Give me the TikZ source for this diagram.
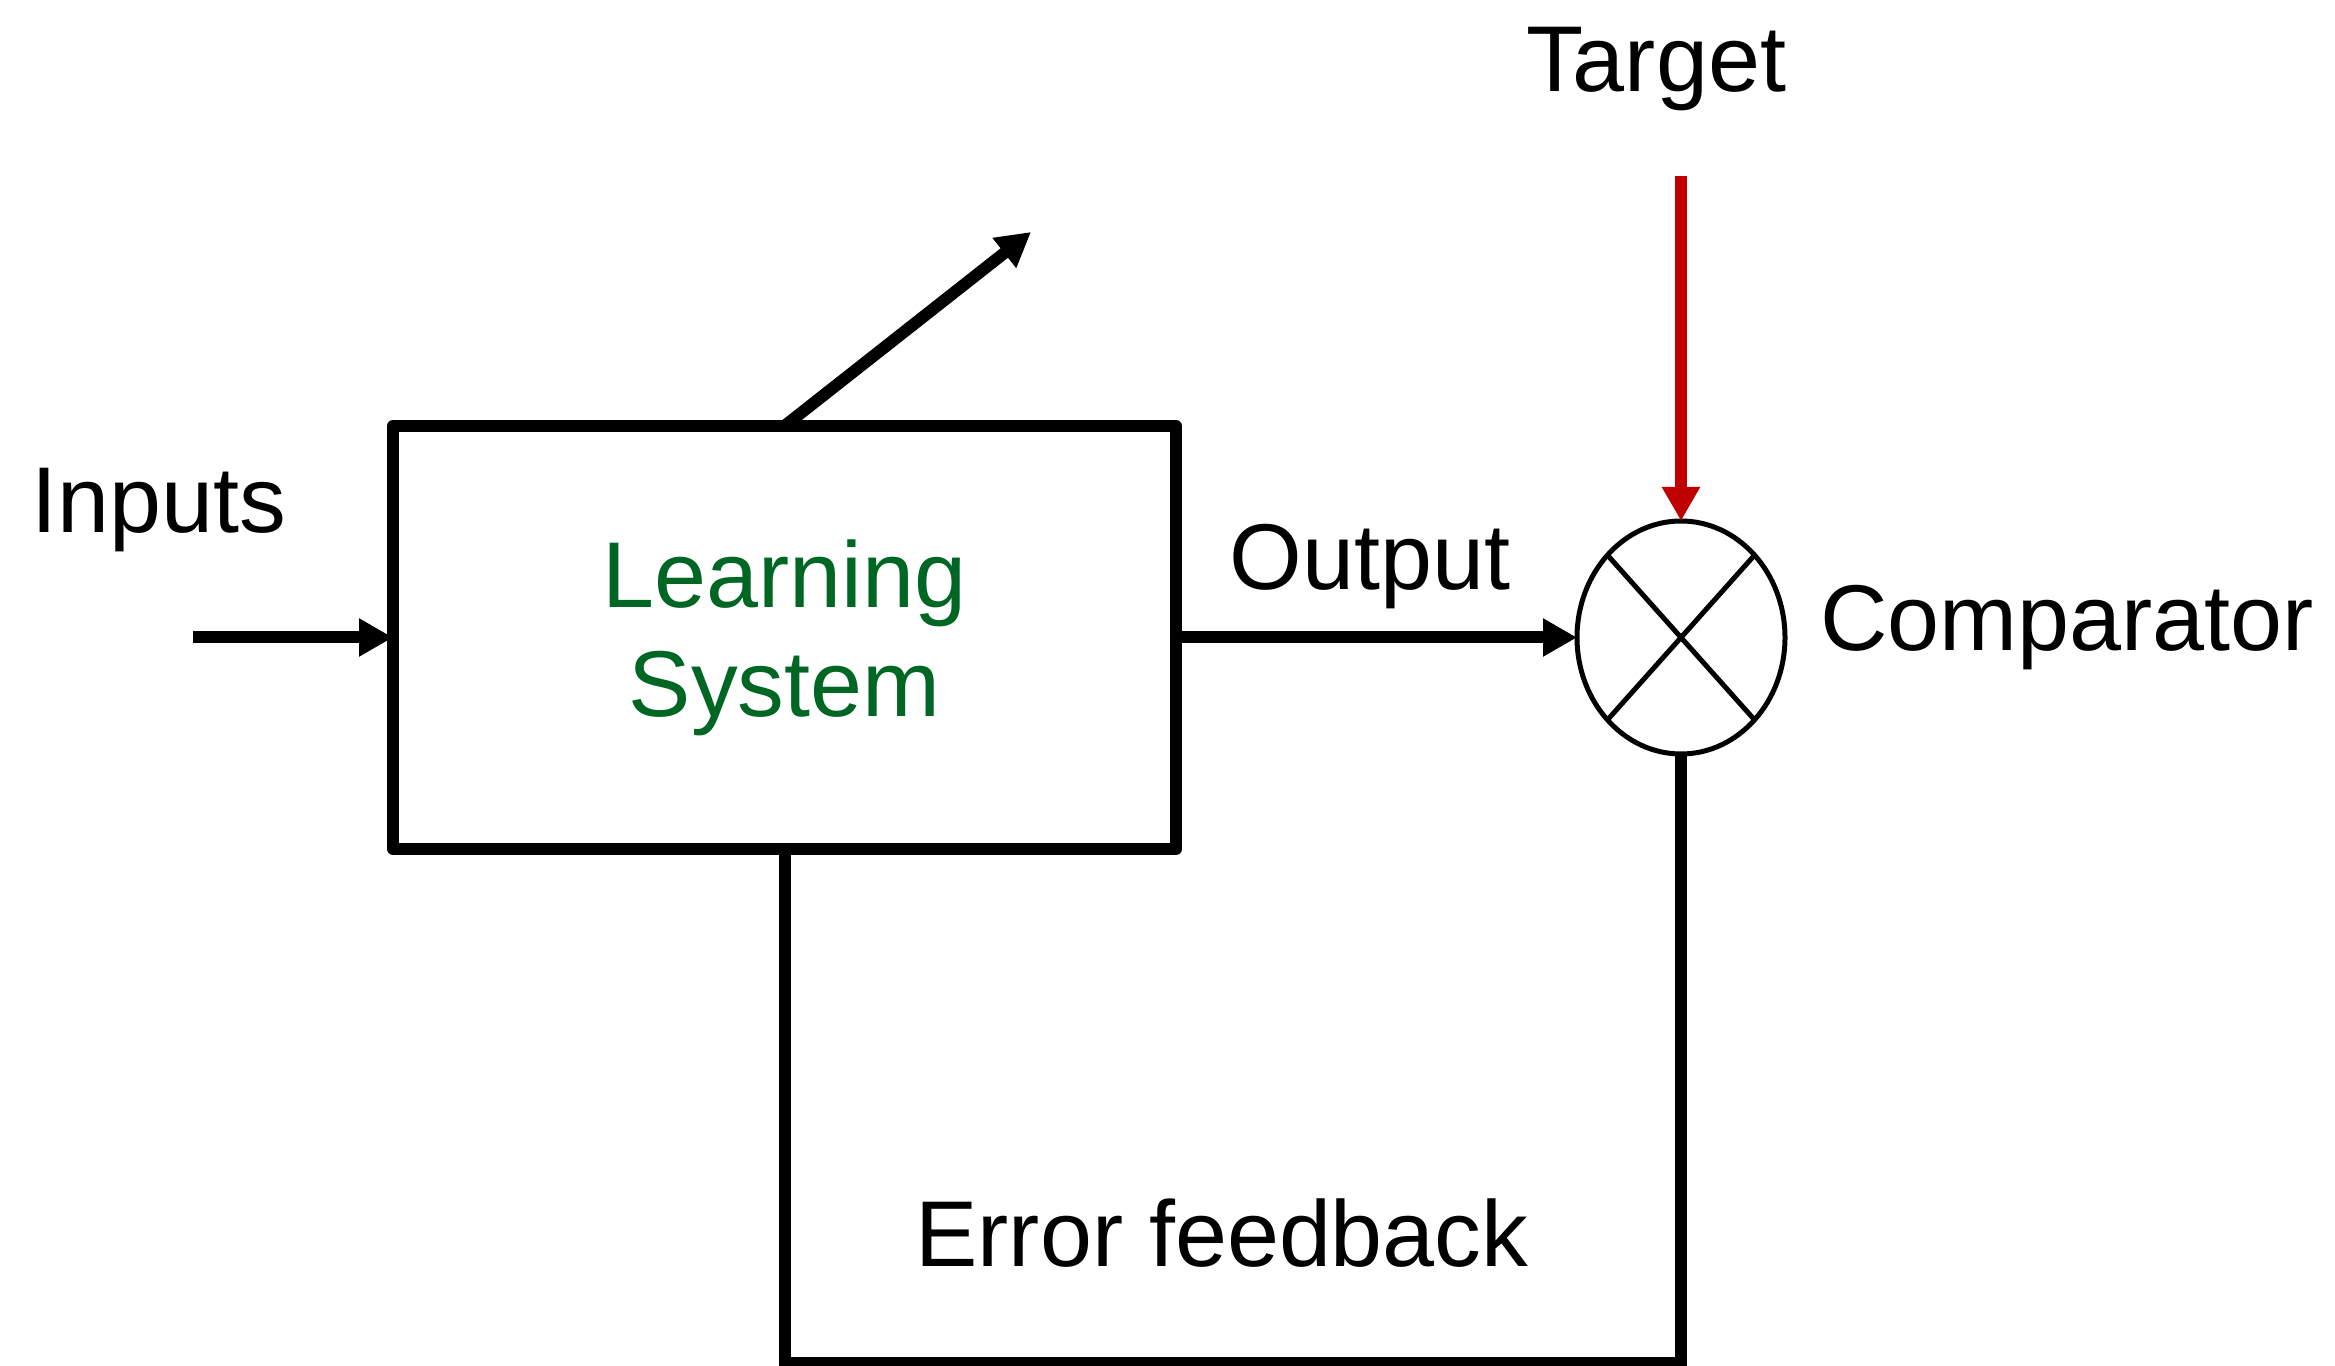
\documentclass[tikz,border=0pt]{standalone}
\usepackage{fontspec}
\setmainfont{Liberation Sans}
\usetikzlibrary{arrows.meta,shapes.geometric,positioning,calc}
\definecolor{learnGreen}{RGB}{0,102,36}
\definecolor{targetRed}{RGB}{192,0,0}
\newcommand{\lblfont}{\fontsize{26.6pt}{31pt}\selectfont}
\tikzset{
  sysBox/.style={rectangle,draw,line width=0.12cm,line join=round,
                 minimum width=7.83cm,minimum height=4.23cm,inner sep=0pt,outer sep=0pt,
                 align=center,text=learnGreen,font=\lblfont},
  sysArrow/.style={-{Triangle[length=0.34cm,width=0.36cm]},line width=0.12cm,#1},
  sysArrow/.default=black,
}
\begin{document}
\begin{tikzpicture}[
  cmpNode/.style={ellipse,draw,line width=0.05cm,minimum width=2.08cm,
                  minimum height=2.33cm,inner sep=0pt,outer sep=0pt},
  lbl/.style={anchor=base,font=\lblfont,inner sep=0pt}
]
  \useasboundingbox (0,0) rectangle (23.35,-13.66);
  \node[sysBox](sys) at (7.845,-6.375) {Learning\\System};
  \node[cmpNode](cmp) at (16.81,-6.375) {};
  \foreach \a in {45,135}{
    \draw[line width=0.05cm]($(cmp.center)+(\a:1.04 and 1.165)$)
                          --($(cmp.center)+(\a+180:1.04 and 1.165)$);
  }
  \coordinate (in)  at (1.93,-6.375);
  \coordinate (adj) at (10.31,-2.32);
  \coordinate (tgt) at (16.81,-1.76);
  \coordinate (fb)  at (16.81,-13.63);
  \draw[sysArrow](in)--(sys);
  \draw[sysArrow](sys.north)--(adj);
  \draw[sysArrow](sys)--(cmp);
  \draw[sysArrow=targetRed](tgt)--(cmp);
  \draw[line width=0.12cm](sys.south)|-(fb)--(cmp.south);
  \node[lbl](inLbl)  at (1.59,-5.33)  {Inputs};
  \node[lbl](outLbl) at (13.70,-5.90) {Output};
  \node[lbl](tgtLbl) at (16.56,-0.92) {Target};
  \node[lbl](cmpLbl) at (20.67,-6.51) {Comparator};
  \node[lbl](fbLbl)  at (12.22,-12.66){Error feedback};
\end{tikzpicture}
\end{document}
